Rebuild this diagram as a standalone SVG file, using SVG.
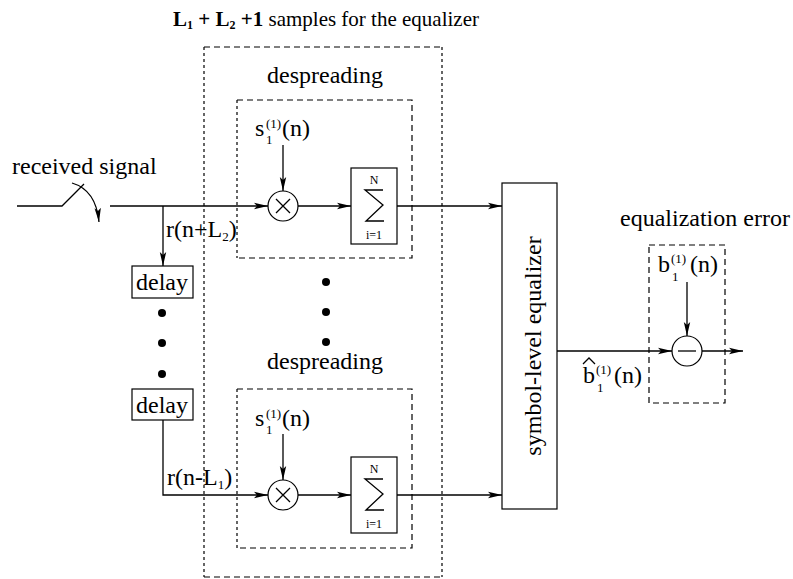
<svg xmlns="http://www.w3.org/2000/svg" width="793" height="579" viewBox="0 0 793 579" font-family="'Liberation Serif', 'Times New Roman', serif">
<style>
text{font-family:"Liberation Serif","Times New Roman",serif;fill:#000}
.t{font-size:24px}
.sm{font-size:13px}
.ln{stroke:#000;stroke-width:1.3;fill:none}
.box{stroke:#000;stroke-width:1.2;fill:#fff}
.dash{stroke:#000;stroke-width:1.2;fill:none;stroke-dasharray:6,4}
.dot{stroke:#000;stroke-width:1.2;fill:none;stroke-dasharray:3,3}
</style>
<defs>
<marker id="ah" markerWidth="14" markerHeight="8" refX="14" refY="4" orient="auto" markerUnits="userSpaceOnUse">
<path d="M0,0.8 L14,4 L0,7.2 L3,4 Z" fill="#000"/>
</marker>
</defs>
<rect width="793" height="579" fill="#fff"/>

<g id="title">
<text x="173" y="26" style="font-size:21px"><tspan font-weight="bold">L</tspan><tspan font-size="12" dy="3" font-weight="bold">1</tspan><tspan dy="-3" font-weight="bold"> + L</tspan><tspan font-size="12" dy="3" font-weight="bold">2</tspan><tspan dy="-3" font-weight="bold"> +1</tspan> samples for the equalizer</text>
</g>

<g id="outer-box">
<path class="dot" d="M204,47 V577"/>
<path class="dot" d="M442,47 V577"/>
<path class="dash" d="M204,47 H442 M204,577 H442"/>
</g>

<g id="despreading-top">
<text class="t" x="325" y="83" text-anchor="middle">despreading</text>
<path class="dot" d="M237,100 V258"/>
<path class="dash" d="M237,100 H412 V258 H237"/>
<text class="t" x="255" y="136">s</text>
<text class="sm" x="266" y="128">(1)</text>
<text class="sm" x="266" y="144">1</text>
<text class="t" x="282" y="136">(n)</text>
<circle cx="283" cy="206" r="15" class="box"/>
<path class="ln" d="M276,199 L290,213 M290,199 L276,213"/>
<rect x="351" y="168" width="46" height="76" class="box"/>
<text x="374" y="184" text-anchor="middle" style="font-size:12px">N</text>
<path class="ln" d="M383,190 H365 L383,205 L366,221 H384" stroke-width="1"/>
<text x="374" y="239" text-anchor="middle" style="font-size:12px">i=1</text>
</g>

<g id="despreading-bottom">
<text class="t" x="325" y="369" text-anchor="middle">despreading</text>
<path class="dot" d="M237,389 V548"/>
<path class="dash" d="M237,389 H412 V548 H237"/>
<text class="t" x="255" y="426">s</text>
<text class="sm" x="266" y="418">(1)</text>
<text class="sm" x="266" y="434">1</text>
<text class="t" x="282" y="426">(n)</text>
<circle cx="283" cy="495" r="15" class="box"/>
<path class="ln" d="M276,488 L290,502 M290,488 L276,502"/>
<rect x="351" y="457" width="46" height="76" class="box"/>
<text x="374" y="473" text-anchor="middle" style="font-size:12px">N</text>
<path class="ln" d="M383,479 H365 L383,494 L366,510 H384" stroke-width="1"/>
<text x="374" y="528" text-anchor="middle" style="font-size:12px">i=1</text>
</g>

<g id="middle-dots">
<circle cx="326" cy="282" r="4"/>
<circle cx="326" cy="312" r="4"/>
<circle cx="326" cy="342" r="4"/>
</g>

<g id="delay1">
<rect x="132" y="266" width="61" height="32" class="box"/>
<text class="t" x="162" y="290" text-anchor="middle">delay</text>
</g>
<g id="delay-dots">
<circle cx="162" cy="313" r="4"/>
<circle cx="162" cy="343" r="4"/>
<circle cx="162" cy="374" r="4"/>
</g>
<g id="delay2">
<rect x="132" y="389" width="61" height="31" class="box"/>
<text class="t" x="162" y="413" text-anchor="middle">delay</text>
</g>

<g id="equalizer">
<rect x="502" y="183" width="55" height="326" class="box"/>
<text class="t" transform="translate(541,346) rotate(-90)" text-anchor="middle">symbol-level equalizer</text>
</g>

<g id="error-box">
<text class="t" x="620" y="226">equalization error</text>
<path class="dash" d="M649,245 H725 V403 H649 Z"/>
<text class="t" x="658" y="272">b</text>
<text class="sm" x="671" y="263">(1)</text>
<text class="sm" x="672" y="281">1</text>
<text class="t" x="690" y="272">(n)</text>
<circle cx="687" cy="351" r="15" class="box"/>
<path class="ln" d="M678,351 H696"/>
</g>

<g id="labels">
<text class="t" x="12" y="174">received signal</text>
<text class="t" x="166" y="237">r(n+L<tspan class="sm" dy="4">2</tspan><tspan dy="-4">)</tspan></text>
<text class="t" x="167" y="485">r(n-L<tspan class="sm" dy="4">1</tspan><tspan dy="-4">)</tspan></text>
<text class="t" x="583" y="383">b</text>
<path class="ln" d="M583,364 L589,358 L595,364" stroke-width="1"/>
<text class="sm" x="596" y="374">(1)</text>
<text class="sm" x="597" y="392">1</text>
<text class="t" x="614" y="383">(n)</text>
</g>

<g id="connectors">
<path class="ln" d="M17,206 H62 L84,184"/>
<path class="ln" d="M72,183 Q96,190 99,222" marker-end="url(#ah)"/>
<path class="ln" d="M110,206 H268" marker-end="url(#ah)"/>
<path class="ln" d="M163,206 V266" marker-end="url(#ah)"/>
<path class="ln" d="M283,145 V191" marker-end="url(#ah)"/>
<path class="ln" d="M298,206 H351" marker-end="url(#ah)"/>
<path class="ln" d="M397,206 H502" marker-end="url(#ah)"/>
<path class="ln" d="M163,420 V495 H268" marker-end="url(#ah)"/>
<path class="ln" d="M283,434 V480" marker-end="url(#ah)"/>
<path class="ln" d="M298,495 H351" marker-end="url(#ah)"/>
<path class="ln" d="M397,495 H502" marker-end="url(#ah)"/>
<path class="ln" d="M557,351 H672" marker-end="url(#ah)"/>
<path class="ln" d="M687,282 V336" marker-end="url(#ah)"/>
<path class="ln" d="M702,351 H743" marker-end="url(#ah)"/>
</g>
</svg>
